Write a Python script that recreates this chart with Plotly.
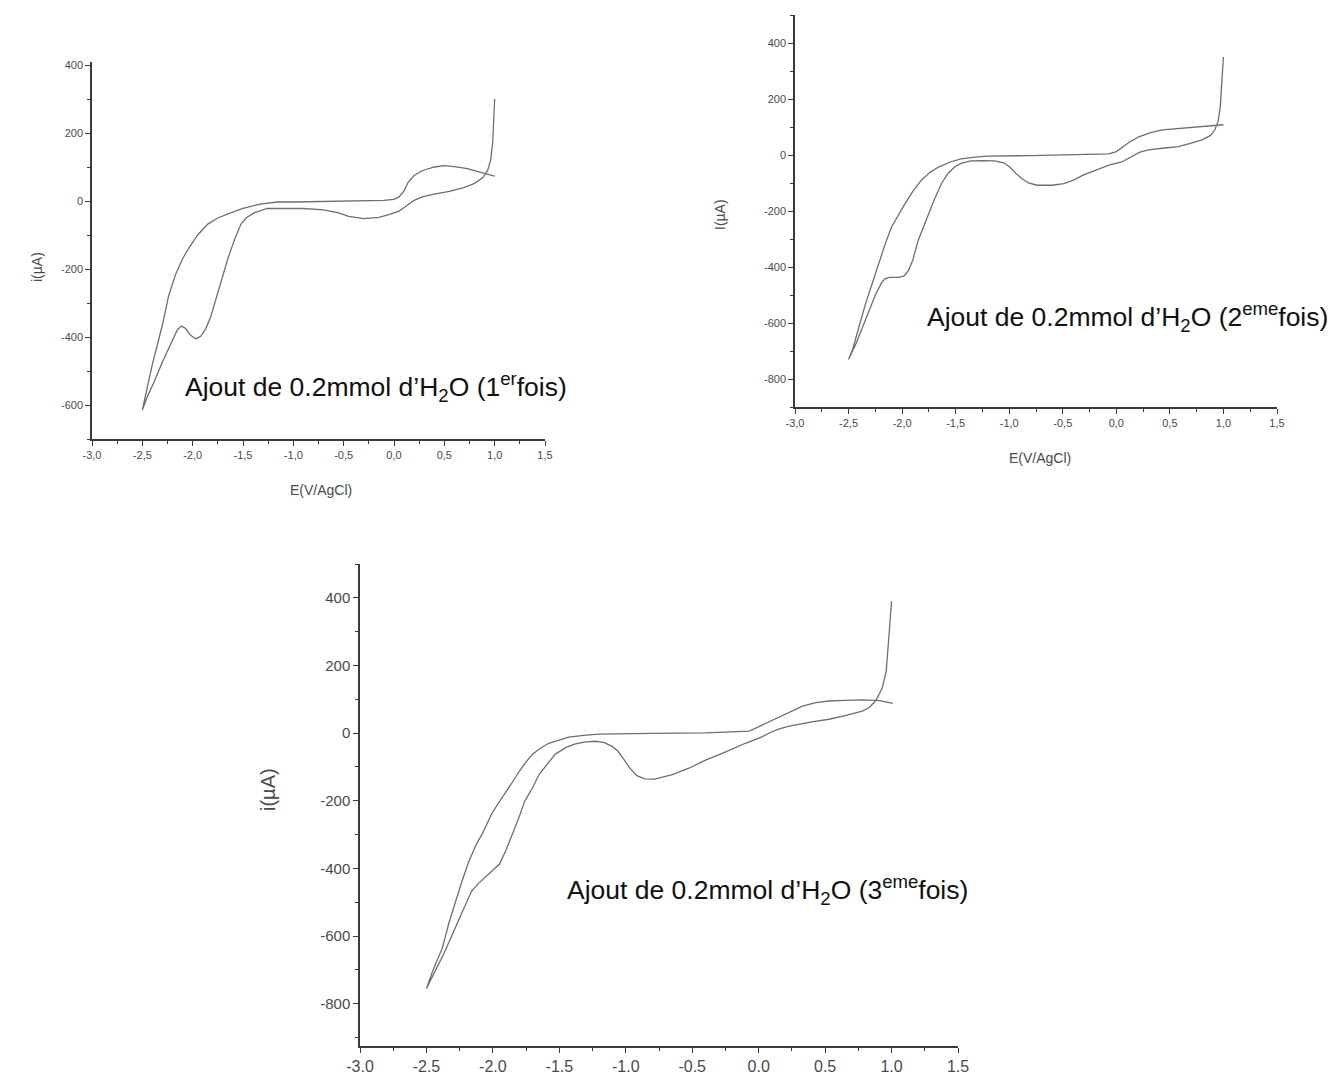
import plotly.graph_objects as go

# ---------------- data (E in V/AgCl, i in µA) ----------------
# Panel 1 (1er fois): spike -> lower branch -> -2.5 V -> upper branch
p1_E = [1.00, 0.99, 0.98, 0.96, 0.93, 0.88, 0.80, 0.70, 0.55, 0.40, 0.28, 0.20, 0.12, 0.05,
        -0.05, -0.15, -0.30, -0.45, -0.55, -0.70, -0.90, -1.10, -1.26, -1.39, -1.47, -1.52,
        -1.58, -1.65, -1.75, -1.82, -1.87, -1.92, -1.97, -2.02, -2.07, -2.11, -2.15, -2.20,
        -2.30, -2.38, -2.45, -2.50,
        -2.48, -2.40, -2.30, -2.24, -2.17, -2.10, -2.04, -1.95, -1.85, -1.75, -1.65, -1.50,
        -1.33, -1.16, -1.00, -0.50, -0.10, 0.00, 0.05, 0.10, 0.14, 0.20, 0.28, 0.40, 0.50,
        0.60, 0.73, 0.85, 0.92, 1.00]
p1_I = [300, 230, 170, 120, 90, 68, 52, 40, 28, 20, 12, 2, -15, -30,
        -40, -48, -52, -45, -35, -26, -22, -22, -22, -35, -50, -68,
        -110, -169, -266, -340, -376, -398, -405, -395, -375, -368, -378, -410,
        -473, -530, -575, -615,
        -586, -480, -364, -280, -216, -170, -139, -100, -68, -50, -38, -22,
        -9, -3, -3, 0, 2, 5, 12, 30, 55, 75, 89, 100, 104,
        101, 95, 85, 79, 73]

# Panel 2 (2eme fois)
p2_E = [1.00, 0.99, 0.98, 0.97, 0.95, 0.92, 0.88, 0.80, 0.70, 0.58, 0.45, 0.30, 0.22, 0.15,
        0.05, -0.07, -0.20, -0.31, -0.40, -0.49, -0.60, -0.74, -0.82, -0.88, -0.94, -0.99,
        -1.05, -1.14, -1.25, -1.36, -1.45, -1.51, -1.57, -1.63, -1.70, -1.75, -1.80, -1.85,
        -1.90, -1.94, -1.98, -2.03, -2.08, -2.12, -2.16, -2.19, -2.25, -2.31, -2.37, -2.43,
        -2.50,
        -2.46, -2.40, -2.34, -2.28, -2.22, -2.16, -2.10, -2.03, -1.97, -1.90, -1.82, -1.74,
        -1.66, -1.55, -1.45, -1.30, -1.20, -0.80, -0.40, -0.07, 0.00, 0.06, 0.13, 0.21,
        0.32, 0.43, 0.60, 0.74, 0.88, 1.00]
p2_I = [350, 300, 230, 170, 120, 90, 70, 54, 42, 30, 25, 18, 10, -5,
        -25, -36, -55, -72, -90, -102, -108, -108, -100, -85, -65, -45,
        -28, -21, -20, -21, -30, -43, -65, -100, -160, -208, -255, -305,
        -375, -412, -432, -437, -437, -437, -442, -455, -500, -556, -610, -673,
        -730,
        -692, -610, -530, -460, -388, -320, -258, -210, -172, -130, -90, -62,
        -43, -25, -14, -7, -4, -2, 0, 4, 12, 29, 48, 65,
        80, 90, 96, 100, 104, 108]

# Panel 3 (3eme fois)
p3_E = [1.00, 0.99, 0.98, 0.97, 0.96, 0.93, 0.88, 0.83, 0.78, 0.65, 0.53, 0.40, 0.23, 0.15,
        0.10, 0.02, -0.10, -0.27, -0.40, -0.52, -0.65, -0.78, -0.86, -0.92, -0.97, -1.02,
        -1.06, -1.10, -1.16, -1.23, -1.30, -1.38, -1.45, -1.53, -1.60, -1.65, -1.70, -1.76,
        -1.80, -1.85, -1.90, -1.95, -2.00, -2.06, -2.11, -2.16, -2.20, -2.25, -2.31, -2.37,
        -2.43, -2.50,
        -2.45, -2.38, -2.33, -2.28, -2.23, -2.18, -2.12, -2.08, -2.04, -2.01, -1.96, -1.91,
        -1.85, -1.80, -1.75, -1.70, -1.64, -1.58, -1.50, -1.43, -1.30, -1.20, -0.80, -0.40,
        -0.07, -0.02, 0.05, 0.13, 0.23, 0.33, 0.43, 0.53, 0.65, 0.78, 0.91, 0.99, 1.01]
p3_I = [390, 340, 300, 250, 183, 133, 95, 75, 65, 52, 41, 33, 21, 12,
        4, -12, -30, -59, -80, -103, -123, -136, -135, -125, -103, -75,
        -53, -40, -28, -24, -26, -32, -42, -62, -95, -121, -160, -201,
        -245, -298, -345, -387, -405, -428, -445, -467, -500, -546, -600, -653,
        -700, -755,
        -700, -635, -560, -496, -435, -378, -325, -298, -265, -239, -208, -180,
        -143, -112, -85, -62, -44, -30, -20, -12, -6, -3, -1, 1,
        6, 15, 28, 44, 62, 80, 90, 95, 97, 98, 96, 91, 88]

x_ticks = [-3.0, -2.5, -2.0, -1.5, -1.0, -0.5, 0.0, 0.5, 1.0, 1.5]
x_labels_comma = ["-3,0", "-2,5", "-2,0", "-1,5", "-1,0", "-0,5", "0,0", "0,5", "1,0", "1,5"]
x_labels_dot = ["-3.0", "-2.5", "-2.0", "-1.5", "-1.0", "-0.5", "0.0", "0.5", "1.0", "1.5"]
y_ticks1 = [-600, -400, -200, 0, 200, 400]
y_ticks2 = [-800, -600, -400, -200, 0, 200, 400]

annot_text = ["Ajout de 0.2mmol d\u2019H<sub>2</sub>O (1<sup>er</sup>fois)",
              "Ajout de 0.2mmol d\u2019H<sub>2</sub>O (2<sup>eme</sup>fois)",
              "Ajout de 0.2mmol d\u2019H<sub>2</sub>O (3<sup>eme</sup>fois)"]

# ---------------- figure ----------------
W, H = 1332, 1074
LINE = "#6e6e6e"
AX = "#3a3a3a"
TXT = "#4a4a4a"
FONT = "Liberation Sans, Arial, sans-serif"

fig = go.Figure()
fig.add_trace(go.Scatter(x=p1_E, y=p1_I, mode="lines", line=dict(color=LINE, width=1.3),
                         xaxis="x", yaxis="y", showlegend=False))
fig.add_trace(go.Scatter(x=p2_E, y=p2_I, mode="lines", line=dict(color=LINE, width=1.3),
                         xaxis="x2", yaxis="y2", showlegend=False))
fig.add_trace(go.Scatter(x=p3_E, y=p3_I, mode="lines", line=dict(color=LINE, width=1.3),
                         xaxis="x3", yaxis="y3", showlegend=False))


def px_x(a, b):
    return [a / W, b / W]


def px_y(bottom, top):
    return [1 - bottom / H, 1 - top / H]


def xaxis(dom, labels, fsize, anchor):
    return dict(domain=dom, range=[-3.0, 1.5], anchor=anchor, showgrid=False, zeroline=False,
                automargin=False,
                showline=True, linecolor=AX, linewidth=1.5, ticks="outside", ticklen=5,
                tickcolor=AX, tickwidth=1.2, tickmode="array", tickvals=x_ticks, ticktext=labels,
                tickfont=dict(family=FONT, size=fsize, color=TXT),
                minor=dict(tick0=-3.0, dtick=0.25, ticks="outside", ticklen=3, tickcolor=AX,
                           showgrid=False))


def yaxis(dom, rng, vals, fsize, anchor):
    return dict(domain=dom, range=rng, anchor=anchor, showgrid=False, zeroline=False,
                automargin=False,
                showline=True, linecolor=AX, linewidth=1.5, ticks="outside", ticklen=5,
                tickcolor=AX, tickwidth=1.2, tickmode="array", tickvals=vals,
                ticktext=[str(v) for v in vals],
                tickfont=dict(family=FONT, size=fsize, color=TXT),
                minor=dict(tick0=0, dtick=100, ticks="outside", ticklen=3, tickcolor=AX,
                           showgrid=False))


fig.update_layout(
    template="none",
    width=W, height=H, margin=dict(l=0, r=0, t=0, b=0, autoexpand=False),
    paper_bgcolor="white", plot_bgcolor="white", showlegend=False,
    xaxis=xaxis(px_x(92, 545), x_labels_comma, 11, "y"),
    yaxis=yaxis(px_y(439, 61.6), [-700, 410], y_ticks1, 11, "x"),
    xaxis2=xaxis(px_x(795, 1277), x_labels_comma, 11, "y2"),
    yaxis2=yaxis(px_y(407, 15), [-900, 500], y_ticks2, 11, "x2"),
    xaxis3=xaxis(px_x(360, 958), x_labels_dot, 16, "y3"),
    yaxis3=yaxis(px_y(1046, 564), [-925, 500], y_ticks2, 15, "x3"),
)

ANN = 26.5
anns = [
    dict(text=annot_text[0], x=183 / W, y=1 - 387 / H, xanchor="left", yanchor="middle",
         font=dict(family=FONT, size=ANN, color="#111")),
    dict(text=annot_text[1], x=925 / W, y=1 - 317 / H, xanchor="left", yanchor="middle",
         font=dict(family=FONT, size=ANN, color="#111")),
    dict(text=annot_text[2], x=565 / W, y=1 - 890 / H, xanchor="left", yanchor="middle",
         font=dict(family=FONT, size=ANN, color="#111")),
    dict(text="i(\u00b5A)", x=37 / W, y=1 - 267 / H, textangle=-90, xanchor="center",
         yanchor="middle", font=dict(family=FONT, size=14, color=TXT)),
    dict(text="E(V/AgCl)", x=321 / W, y=1 - 490 / H, xanchor="center", yanchor="middle",
         font=dict(family=FONT, size=14, color=TXT)),
    dict(text="I(\u00b5A)", x=720 / W, y=1 - 215 / H, textangle=-90, xanchor="center",
         yanchor="middle", font=dict(family=FONT, size=14, color=TXT)),
    dict(text="E(V/AgCl)", x=1040 / W, y=1 - 458 / H, xanchor="center", yanchor="middle",
         font=dict(family=FONT, size=14, color=TXT)),
    dict(text="i(\u00b5A)", x=268 / W, y=1 - 790 / H, textangle=-90, xanchor="center",
         yanchor="middle", font=dict(family=FONT, size=20, color=TXT)),
]
for a in anns:
    a.update(xref="paper", yref="paper", showarrow=False)
fig.update_layout(annotations=anns)

fig.write_html("out.html",
               config={"displayModeBar": False},
               post_script="document.body.style.margin='0';document.body.style.overflow='hidden';")
